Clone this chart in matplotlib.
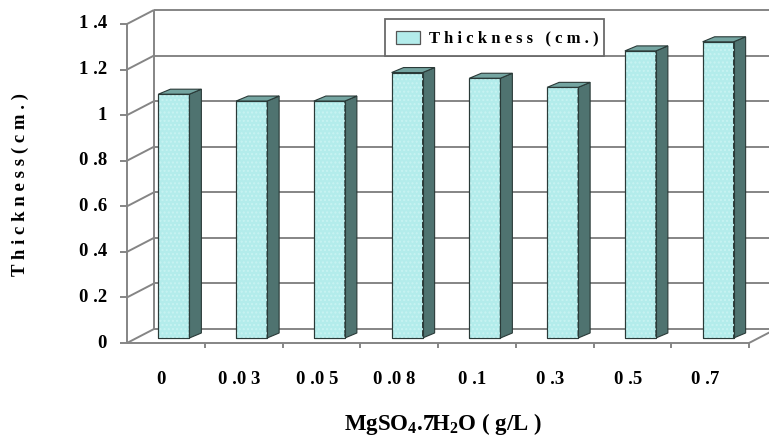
import matplotlib
matplotlib.use("Agg")
import matplotlib.pyplot as plt
from matplotlib.patches import Polygon
import numpy as np

categories = ["0", "0.03", "0.05", "0.08", "0.1", "0.3", "0.5", "0.7"]
thickness = [1.07, 1.04, 1.04, 1.165, 1.14, 1.10, 1.26, 1.30]
yticks = [0, 0.2, 0.4, 0.6, 0.8, 1.0, 1.2, 1.4]
ytick_labels = ["0", "0.2", "0.4", "0.6", "0.8", "1", "1.2", "1.4"]
legend_label = "Thickness (cm.)"
ylabel = "Thickness(cm.)"
xlabel = "MgSO$_4$.7H$_2$O ( g/L )"

plt.rcParams["mathtext.fontset"] = "custom"
plt.rcParams["mathtext.rm"] = "Liberation Serif:bold"
plt.rcParams["mathtext.it"] = "Liberation Serif:bold"
plt.rcParams["mathtext.bf"] = "Liberation Serif:bold"

W, H = 769, 437
fig = plt.figure(figsize=(W / 100, H / 100), dpi=100)
x0p, x1p, y0p, y1p = 127, 749, 343, 24
ax = fig.add_axes([x0p / W, 1 - y0p / H, (x1p - x0p) / W, (y0p - y1p) / H])
ax.set_xlim(-0.5, 7.5)
ax.set_ylim(0, 1.4)
ax.axis("off")

cpx = (x1p - x0p) / 8.0
vpx = (y0p - y1p) / 1.4
dx = 27 / cpx
dy = 14 / vpx

gcol = "#858585"
lw = 1.4
kw = dict(color=gcol, lw=lw, clip_on=False, solid_capstyle="butt")

xr = 7.5 + dx
for v in yticks:
    ax.plot([-0.5 + dx, xr], [v + dy, v + dy], **kw)
ax.plot([-0.5 + dx, -0.5 + dx], [dy, 1.4 + dy], **kw)
for v in yticks:
    ax.plot([-0.5, -0.5 + dx], [v, v + dy], **kw)
ax.plot([-0.5, -0.5], [0, 1.4], **kw)
ax.plot([-0.5, 7.5], [0, 0], **kw)
ax.plot([7.5, 7.5 + dx], [0, dy], **kw)
tl = 7 / cpx
for v in yticks:
    ax.plot([-0.5 - tl, -0.5], [v, v], **kw)
for k in range(1, 9):
    ax.plot([-0.5 + k, -0.5 + k], [0, -5 / vpx], **kw)

x = np.arange(len(categories))
bw = 31 / cpx
fx = 8 / cpx
fy = 5 / vpx
sx = 12 / cpx
sy = 5 / vpx
front_c = "#b3eceb"
side_c = "#4f7370"
top_c = "#74a5a1"
edge_c = "#2a3a38"
ax.bar(x + fx, thickness, width=bw, bottom=fy, color=front_c,
       edgecolor=edge_c, linewidth=0.8, zorder=3)
ax.bar(x + fx, thickness, width=bw, bottom=fy, color="none",
       edgecolor="#c8f3f2", linewidth=0, hatch="....", zorder=3.5)
ax.bar(x + fx, thickness, width=bw, bottom=fy, color="none",
       edgecolor=edge_c, linewidth=0.8, zorder=3.6)
for xi, v in zip(x, thickness):
    xl = xi + fx - bw / 2
    xrr = xi + fx + bw / 2
    side = Polygon([[xrr, fy], [xrr + sx, fy + sy], [xrr + sx, fy + sy + v], [xrr, fy + v]],
                   closed=True, facecolor=side_c, edgecolor=edge_c, lw=0.8, zorder=3)
    top = Polygon([[xl, fy + v], [xrr, fy + v], [xrr + sx, fy + v + sy], [xl + sx, fy + v + sy]],
                  closed=True, facecolor=top_c, edgecolor=edge_c, lw=0.8, zorder=3)
    ax.add_patch(side)
    ax.add_patch(top)


def spaced(s):
    out = ""
    for i, ch in enumerate(s):
        if ch == ".":
            out += " ."
        else:
            if i > 0 and s[i - 1] != ".":
                out += " "
            out += ch
    return out


font = dict(family="Liberation Serif", weight="bold")
for v, lab in zip(yticks, ytick_labels):
    ax.text(-0.5 - 20 / cpx, v, spaced(lab), ha="right", va="center", fontsize=13.5, **font)
for xi, lab in zip(x, categories):
    ax.text(xi - 0.06, -37 / vpx, spaced(lab), ha="center", va="center", fontsize=13.5, **font)

fig.text(20 / W, 1 - 185 / H, " ".join(ylabel), rotation=90, ha="center", va="center",
         fontsize=13.5, **font)
fig.text(443 / W, 1 - 424 / H, xlabel, ha="center", va="center", fontsize=16.5, **font)

lx0, lx1, ly0, ly1 = 385, 604, 19, 56
fig.patches.append(Polygon([[lx0 / W, 1 - ly0 / H], [lx1 / W, 1 - ly0 / H],
                            [lx1 / W, 1 - ly1 / H], [lx0 / W, 1 - ly1 / H]],
                           closed=True, transform=fig.transFigure, facecolor="white",
                           edgecolor="#6a6a6a", lw=1.3, zorder=5))
fig.patches.append(Polygon([[396 / W, 1 - 31 / H], [420 / W, 1 - 31 / H],
                            [420 / W, 1 - 44 / H], [396 / W, 1 - 44 / H]],
                           closed=True, transform=fig.transFigure, facecolor=front_c,
                           edgecolor="#555555", lw=0.9, zorder=6))
fig.text(429 / W, 1 - 38 / H, " ".join(legend_label), ha="left", va="center",
         fontsize=12, zorder=7, **font)

fig.savefig("out.png", dpi=100)
